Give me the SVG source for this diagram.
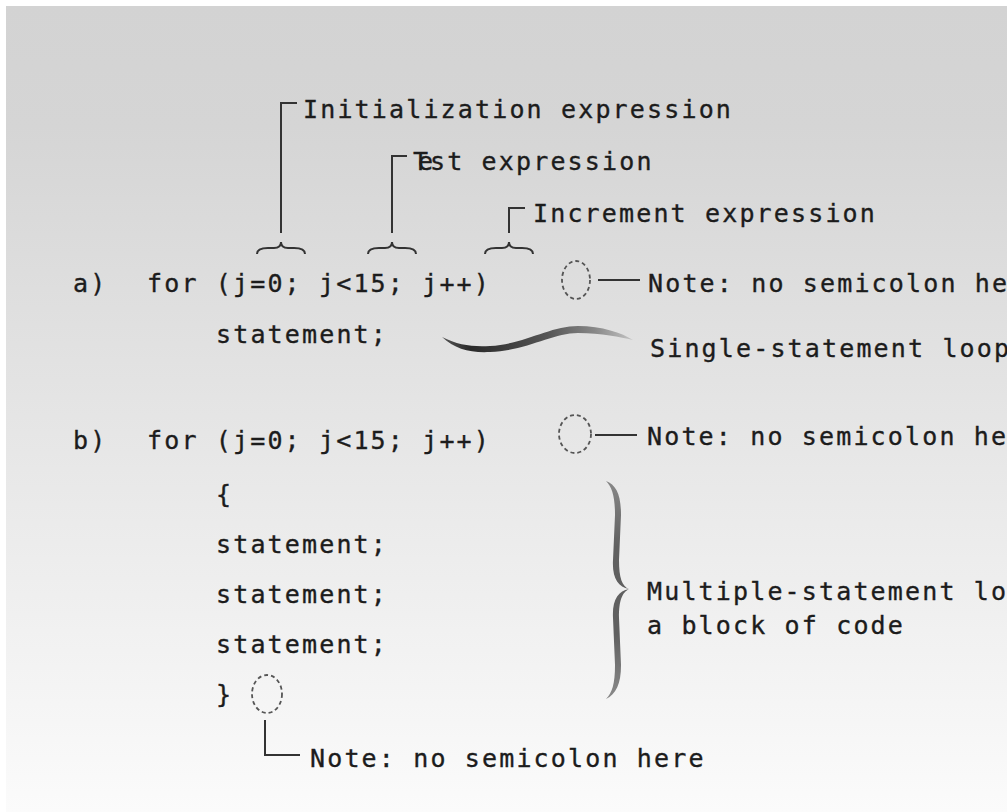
<svg xmlns="http://www.w3.org/2000/svg" width="1007" height="812" viewBox="0 0 1007 812">
<defs>
<linearGradient id="bg" x1="0" y1="0" x2="0" y2="1">
<stop offset="0" stop-color="#d3d3d3"/>
<stop offset="0.15" stop-color="#d5d5d5"/>
<stop offset="1" stop-color="#fbfbfb"/>
</linearGradient>
<linearGradient id="swoosh" x1="442" y1="0" x2="633" y2="0" gradientUnits="userSpaceOnUse">
<stop offset="0" stop-color="#555"/>
<stop offset="0.15" stop-color="#2a2a2a"/>
<stop offset="0.55" stop-color="#555"/>
<stop offset="0.8" stop-color="#888"/>
<stop offset="1" stop-color="#c4c4c4"/>
</linearGradient>
<linearGradient id="brace" x1="0" y1="0" x2="0" y2="1">
<stop offset="0" stop-color="#888"/>
<stop offset="0.3" stop-color="#606060"/>
<stop offset="0.7" stop-color="#606060"/>
<stop offset="1" stop-color="#8a8a8a"/>
</linearGradient>
</defs>
<style>
text{font-family:"DejaVu Sans Mono","Liberation Mono",monospace;font-size:25px;letter-spacing:2.15px;fill:#1c1c1c;stroke:#1c1c1c;stroke-width:0.35px}
.ln{fill:none;stroke:#333;stroke-width:2}
.br{fill:none;stroke:#333;stroke-width:2}
.dash{fill:none;stroke:#555;stroke-width:1.8;stroke-dasharray:4 3}
</style>
<rect x="0" y="0" width="1007" height="812" fill="#ffffff"/>
<rect x="6" y="6" width="1001" height="806" fill="url(#bg)"/>

<g id="connectors">
<path class="ln" d="M281,233 V103 H297"/>
<path class="ln" d="M392,233 V156 H407"/>
<path class="ln" d="M509,233 V208 H525"/>
<path class="br" d="M257,254 C257,249 262,248 268,248 L274,248 C278,248 281,246 281,242 C281,246 284,248 288,248 L294,248 C300,248 305,249 305,254"/>
<path class="br" d="M368,254 C368,249 373,248 379,248 L385,248 C389,248 392,246 392,242 C392,246 395,248 399,248 L405,248 C411,248 416,249 416,254"/>
<path class="br" d="M485,254 C485,249 490,248 496,248 L502,248 C506,248 509,246 509,242 C509,246 512,248 516,248 L522,248 C528,248 533,249 533,254"/>
<path class="ln" d="M598,280 H640"/>
<path class="ln" d="M595,435 H637"/>
<path class="ln" d="M265,720 V755 H300"/>
<path d="M442,337 C458,345 472,347 490,346 C525,344 550,326 578,326 C602,326 622,333 633,340 C620,337 602,333 578,333 C552,333 526,351 490,352 C470,353 455,349 442,337 Z" fill="url(#swoosh)"/>
<path d="M606,481 C612,487 615,496 615,515 L613,560 C612,578 618,587 629,589 C618,591 612,600 613,618 L615,665 C615,684 612,693 606,699 C616,694 621,684 621,665 L619,618 C619,600 622,593 629,589 C622,586 619,578 619,560 L621,515 C621,494 616,485 606,481 Z" fill="url(#brace)"/>
</g>

<g id="label-init"><text x="303" y="118">Initialization expression</text></g>
<g id="label-test"><text x="413 418 430" y="170">Test expression</text></g>
<g id="label-incr"><text x="533" y="222">Increment expression</text></g>

<g id="code-a">
<text x="73" y="292">a)</text>
<text x="147" y="292">for (j=0; j&lt;15; j++)</text>
<text x="216" y="343">statement;</text>
</g>
<g id="note-a">
<ellipse class="dash" cx="576" cy="280" rx="14" ry="19"/>
<text x="648" y="292">Note: no semicolon here</text>
</g>
<g id="label-single"><text x="650" y="357">Single-statement loop</text></g>

<g id="code-b">
<text x="73" y="449">b)</text>
<text x="147" y="449">for (j=0; j&lt;15; j++)</text>
<text x="216" y="503">{</text>
<text x="216" y="553">statement;</text>
<text x="216" y="603">statement;</text>
<text x="216" y="653">statement;</text>
<text x="216" y="703">}</text>
</g>
<g id="note-b">
<ellipse class="dash" cx="575" cy="434" rx="16" ry="19"/>
<text x="647" y="445">Note: no semicolon here</text>
</g>
<g id="label-multi">
<text x="647" y="600">Multiple-statement lo</text>
<text x="647" y="634">a block of code</text>
</g>
<g id="note-c">
<ellipse class="dash" cx="267" cy="694" rx="15" ry="19"/>
<text x="310" y="767">Note: no semicolon here</text>
</g>
</svg>
